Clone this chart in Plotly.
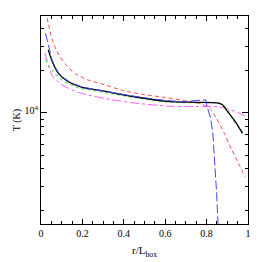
import plotly.graph_objects as go

# Data (x = r/L_box, T in K)
red_x = [0.020, 0.028, 0.038, 0.053, 0.077, 0.117, 0.164, 0.227, 0.306, 0.400, 0.500, 0.600, 0.700, 0.780, 0.815, 0.846, 0.886, 0.920, 0.950, 0.985]
red_T = [53000, 48600, 41700, 33800, 27500, 22300, 19100, 17200, 15900, 14400, 13500, 12900, 12200, 11500, 10800, 9250, 7140, 5500, 4500, 3500]

black_x = [0.035, 0.053, 0.085, 0.132, 0.195, 0.306, 0.444, 0.607, 0.750, 0.850, 0.875, 0.900, 0.941, 0.973]
black_T = [28200, 23500, 19100, 16700, 15300, 14300, 13100, 12100, 11900, 11800, 11500, 10300, 8550, 7150]

blue_x = [0.022, 0.030, 0.038, 0.053, 0.070, 0.085, 0.110, 0.132, 0.160, 0.195, 0.250, 0.306, 0.380, 0.444, 0.520, 0.607, 0.686, 0.750, 0.795, 0.805, 0.818, 0.830, 0.840, 0.849, 0.856]
blue_T = [37100, 33300, 30500, 24000, 21000, 19300, 17800, 16900, 16100, 15400, 14800, 14300, 13600, 13200, 12700, 12250, 12050, 12300, 12400, 10800, 9300, 7200, 4300, 2600, 1500]

green_x = [0.022, 0.053, 0.101, 0.180, 0.306, 0.450, 0.600, 0.750, 0.860, 0.900, 0.925, 0.955, 0.980]
green_T = [24100, 20100, 17200, 15100, 14000, 12900, 12000, 11800, 11750, 10700, 9000, 7950, 7150]

mag_x = [0.019, 0.053, 0.101, 0.180, 0.306, 0.444, 0.607, 0.700, 0.850, 0.894, 0.956, 1.000]
mag_T = [26700, 18600, 15900, 14000, 12700, 11800, 11200, 11100, 11100, 10800, 10000, 9330]

x_ticks = [0, 0.2, 0.4, 0.6, 0.8, 1]
x_tick_text = ["0", "0.2", "0.4", "0.6", "0.8", "1"]
y_major = [10000]
y_major_text = ["10<sup>4</sup>"]
y_minor = [2000, 3000, 4000, 5000, 6000, 7000, 8000, 9000, 20000, 30000, 40000]

fig = go.Figure()
fig.add_trace(go.Scatter(x=mag_x, y=mag_T, mode="lines",
                         line=dict(color="#ff55ff", width=1, dash="dashdot", shape="spline", smoothing=0.6)))
fig.add_trace(go.Scatter(x=green_x, y=green_T, mode="lines",
                         line=dict(color="#66e066", width=1.2, dash="dot", shape="spline", smoothing=0.6)))
fig.add_trace(go.Scatter(x=red_x, y=red_T, mode="lines",
                         line=dict(color="#ff4a4a", width=1, dash="4px,3px", shape="spline", smoothing=0.6)))
fig.add_trace(go.Scatter(x=black_x, y=black_T, mode="lines",
                         line=dict(color="black", width=1.3, shape="spline", smoothing=0.6)))
fig.add_trace(go.Scatter(x=blue_x, y=blue_T, mode="lines",
                         line=dict(color="#4444ff", width=1, dash="9px,3px")))

font = dict(family="Liberation Serif", size=10, color="black")
fig.update_layout(
    width=254, height=254,
    margin=dict(l=28, r=14, t=7, b=28),
    paper_bgcolor="white", plot_bgcolor="white",
    showlegend=False,
    font=font,
)
fig.update_xaxes(
    range=[0, 1], tickmode="array", tickvals=x_ticks, ticktext=x_tick_text,
    ticklabeloverflow="allow",
    ticks="inside", ticklen=5, tickwidth=1, tickcolor="black",
    minor=dict(dtick=0.05, tick0=0, ticks="inside", ticklen=3, tickcolor="black", tickwidth=1),
    showline=True, linecolor="black", linewidth=1, mirror="ticks",
    showgrid=False, zeroline=False,
    title=dict(text="r/L<sub>box</sub>", font=dict(family="Liberation Serif", size=11, color="black"), standoff=8),
    tickfont=font,
)
fig.update_yaxes(
    type="log", range=[3.207, 4.692],
    tickvals=y_major, ticktext=y_major_text,
    ticklabelshift=-2,
    ticks="inside", ticklen=6, tickwidth=1, tickcolor="black",
    minor=dict(tickvals=y_minor, ticks="inside", ticklen=3, tickcolor="black", tickwidth=1),
    showline=True, linecolor="black", linewidth=1, mirror="ticks",
    showgrid=False, zeroline=False,
    title=dict(text="T (K)", font=font, standoff=2),
    tickfont=font,
)
fig.write_html("out.html")
